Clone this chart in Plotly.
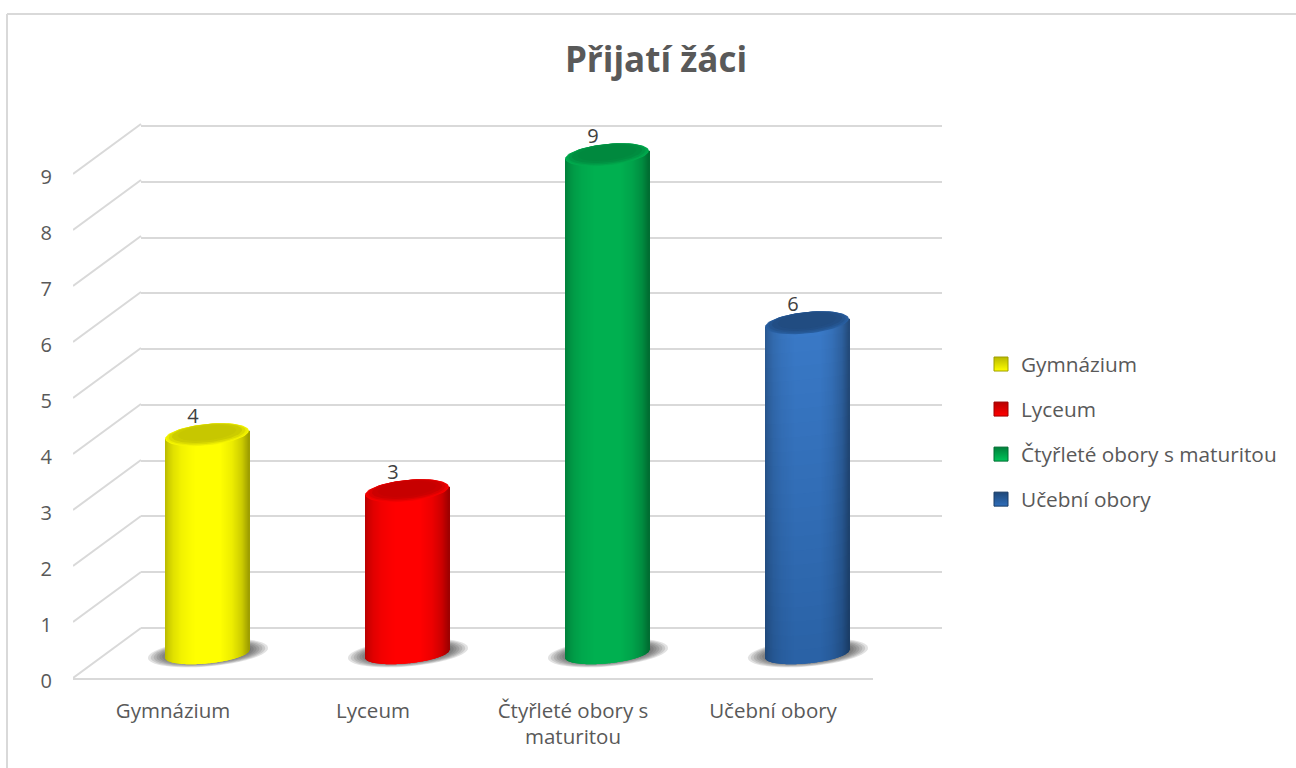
import numpy as np
import plotly.graph_objects as go

# ---------- data ----------
categories = ["Gymnázium", "Lyceum", "Čtyřleté obory s maturitou", "Učební obory"]
tick_text = ["Gymnázium", "Lyceum", "Čtyřleté obory s<br>maturitou", "Učební obory"]
values = [4, 3, 9, 6]
y_ticks = [0, 1, 2, 3, 4, 5, 6, 7, 8, 9]
title_text = "Přijatí žáci"

# ---------- style ----------
base_top = {"Gymnázium": (255, 255, 0), "Lyceum": (255, 0, 0),
            "Čtyřleté obory s maturitou": (0, 184, 88), "Učební obory": (58, 122, 200)}
base_bot = {"Gymnázium": (255, 255, 0), "Lyceum": (255, 0, 0),
            "Čtyřleté obory s maturitou": (0, 176, 80), "Učební obory": (42, 98, 166)}
TXT = "#595959"
GRID = "#d9d9d9"
FONT = "Open Sans"
W, H = 1296, 768
PX_X, PX_Y = 1 / 200, 1 / 56   # data units per pixel on the main axes

shade_u = [0, .04, .1, .2, .36, .66, .8, .92, 1]
shade_v = [.72, .80, .88, .95, 1, 1, .93, .80, .62]


def rgb(c, f=1.0):
    return "rgb(%d,%d,%d)" % tuple(min(255, int(round(v * f))) for v in c)


def mix(a, b, t):
    return tuple(a[i] * (1 - t) + b[i] * t for i in range(3))


def ellipse(cx, cy, a, b, tilt, n=72):
    t = np.linspace(0, 2 * np.pi, n)
    xs = cx + a * np.cos(t) * PX_X
    ys = cy + (tilt * np.cos(t) + b * np.sin(t)) * PX_Y
    return xs, ys


TOP_OFF, BOT_OFF = 0.345, 0.43   # cylinder ends relative to value, in axis units
DX = 0.17                        # depth shift of the cylinders in category units
A, TILT = 41.8, 4.0

fig = go.Figure()
shapes = []

# anchor traces so that the back-wall subplot and the value-label axis are drawn
fig.add_trace(go.Scatter(x=[None], y=[None], mode="lines", xaxis="x", yaxis="y",
                         showlegend=False, hoverinfo="skip"))
fig.add_trace(go.Scatter(x=[None], y=[None], mode="lines", xaxis="x2", yaxis="y3",
                         showlegend=False, hoverinfo="skip"))

# side of each cylinder: vertical strips, each a bar
for i, (cat, val) in enumerate(zip(categories, values)):
    cx = i + DX
    top = val + TOP_OFF
    bot = BOT_OFF
    xs, bases, heights, cols = [], [], [], []
    for p in np.arange(-A, A, 1.0):
        c = (p + .5) / A
        arc = bot + (TILT * c - 9.5 * np.sqrt(max(0, 1 - c * c))) * PX_Y
        end = top + TILT * c * PX_Y
        f = np.interp((c + 1) / 2, shade_u, shade_v)
        n = 24 if cat == "Učební obory" else 1
        edges = np.linspace(arc, end, n + 1)
        for k in range(n):
            t = k / n
            xs.append(cx + (p + .5) * PX_X)
            bases.append(edges[k])
            heights.append(edges[k + 1] - edges[k] + (PX_Y if k < n - 1 else 0))
            cols.append(rgb(mix(base_bot[cat], base_top[cat], t), f))
    fig.add_trace(go.Bar(x=xs, y=heights, base=bases, width=1.25 * PX_X,
                         marker=dict(color=cols, line=dict(width=0)),
                         xaxis="x2", yaxis="y2", showlegend=False, hoverinfo="skip"))

    # floor shadow
    for s in np.linspace(1, .62, 9):
        sx, sy = ellipse(cx + 1 * PX_X, bot + 1 * PX_Y, 60 * s, 13.5 * s, 5 * s)
        path = "M " + " L ".join(f"{a:.4f},{b:.4f}" for a, b in zip(sx, sy)) + " Z"
        shapes.append(dict(type="path", path=path, xref="x2", yref="y2", layer="below",
                           fillcolor="rgba(50,50,50,0.14)", line=dict(width=0)))

    # top cap
    for s, f, up in [(1, .97, 0), (.97, .93, .3), (.92, .86, .8), (.84, .8, 1.4), (.7, .78, 1.8)]:
        ex, ey = ellipse(cx, top + up * PX_Y, A * s, 10.8 * s, TILT * s)
        fig.add_trace(go.Scatter(x=ex, y=ey, mode="lines", fill="toself", fillcolor=rgb(base_bot[cat], f),
                                 line=dict(width=0), xaxis="x2", yaxis="y2",
                                 showlegend=False, hoverinfo="skip"))

# slanted floor/side-wall lines from the front ticks to the back wall
slx, sly = [], []
for t in y_ticks:
    slx += [-0.5, -0.5 + 68 * PX_X, None]
    sly += [t, t + 50 * PX_Y, None]
fig.add_trace(go.Scatter(x=slx, y=sly, mode="lines", line=dict(color=GRID, width=2),
                         xaxis="x2", yaxis="y2", showlegend=False, hoverinfo="skip"))

# data labels
fig.add_trace(go.Scatter(x=[i + 0.1 for i in range(len(values))], y=[v + 0.65 for v in values],
                         mode="text", text=[str(v) for v in values], textposition="middle center",
                         textfont=dict(family=FONT, size=20, color="#404040"),
                         xaxis="x2", yaxis="y2", showlegend=False, hoverinfo="skip"))

# legend entries
for cat in categories:
    c = base_bot[cat]
    fig.add_trace(go.Scatter(x=[None], y=[None], mode="markers", name=cat, legendgroup=cat,
                             marker=dict(symbol="square", size=14, color=rgb(c, .72),
                                         gradient=dict(type="vertical", color=rgb(c, 1.12)),
                                         line=dict(color=rgb(c, .62), width=1)),
                             xaxis="x2", yaxis="y2"))

# chart border
shapes.append(dict(type="line", xref="paper", yref="paper", x0=7 / W, x1=1, y0=1 - 14 / H, y1=1 - 14 / H,
                   line=dict(color=GRID, width=2)))
shapes.append(dict(type="line", xref="paper", yref="paper", x0=7 / W, x1=7 / W, y0=0, y1=1 - 14 / H,
                   line=dict(color=GRID, width=2)))

fig.update_layout(
    width=W, height=H, margin=dict(l=0, r=0, t=0, b=0, autoexpand=False),
    paper_bgcolor="white", plot_bgcolor="rgba(0,0,0,0)",
    barmode="overlay", shapes=shapes, hovermode=False,
    title=dict(text=title_text, x=656 / W, y=1 - 60 / H, xanchor="center", yanchor="middle",
               font=dict(family=FONT, size=35, color=TXT, weight="bold")),
    font=dict(family=FONT, size=20, color=TXT),
    # back wall: native gridlines (range padded by a pixel so the end lines are kept)
    xaxis=dict(domain=[141 / W, 942 / W], range=[0, 1], showgrid=False, showticklabels=False,
               zeroline=False, showline=False, ticks=""),
    yaxis=dict(domain=[1 - 630 / H, 1 - 124 / H], range=[-2 / 55.78, 9 + 2 / 55.78], tickvals=y_ticks,
               showgrid=True, gridcolor=GRID, gridwidth=2, zeroline=False, showline=False,
               showticklabels=False, ticks="", anchor="x"),
    # front: categories and plotting scale
    xaxis2=dict(domain=[73 / W, 873 / W], range=[-0.5, 3.5], tickvals=[0, 1, 2, 3], ticktext=tick_text,
                showgrid=False, zeroline=False, showline=True, linecolor=GRID, linewidth=2,
                ticks="", ticklabelstandoff=13, anchor="y2",
                tickfont=dict(family=FONT, size=20.5, color=TXT)),
    yaxis2=dict(domain=[1 - 678 / H, 1 - 118 / H], range=[0, 10], tickvals=y_ticks,
                showgrid=False, zeroline=False, showline=False, ticks="",
                showticklabels=False, anchor="x2"),
    # value labels, sitting 3 px below the tick positions as in the picture
    yaxis3=dict(domain=[1 - 681 / H, 1 - 121 / H], range=[0, 10], tickvals=y_ticks,
                showgrid=False, zeroline=False, showline=False, ticks="",
                ticklabelstandoff=20, anchor="x2",
                tickfont=dict(family=FONT, size=20, color=TXT)),
    legend=dict(x=981 / W, y=1 - 344 / H, xanchor="left", yanchor="top", traceorder="grouped",
                tracegroupgap=15, bgcolor="rgba(0,0,0,0)", itemclick=False, itemdoubleclick=False,
                font=dict(family=FONT, size=20.8, color=TXT), itemwidth=30),
)
fig.write_html("out.html", post_script="document.body.style.margin='0';",
               config={"displayModeBar": False})
